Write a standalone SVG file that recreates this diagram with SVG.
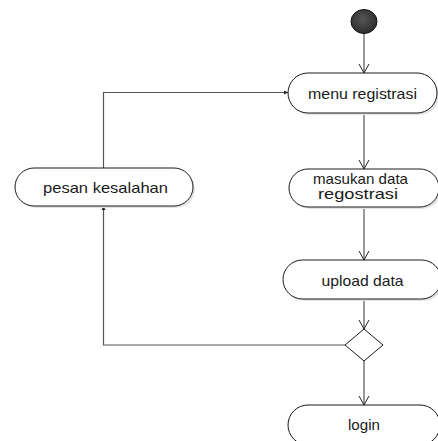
<svg xmlns="http://www.w3.org/2000/svg" width="438" height="441" viewBox="0 0 438 441">
<defs>
<radialGradient id="gStart" cx="0.45" cy="0.4" r="0.6">
<stop offset="0" stop-color="#555"/>
<stop offset="1" stop-color="#2e2e2e"/>
</radialGradient>
<marker id="open" markerWidth="12" markerHeight="12" refX="10" refY="6" orient="auto" markerUnits="userSpaceOnUse">
<path d="M1,1 L10,6 L1,11" fill="none" stroke="#222" stroke-width="1"/>
</marker>
<marker id="small" markerWidth="6" markerHeight="6" refX="4" refY="3" orient="auto" markerUnits="userSpaceOnUse">
<path d="M0,1 L4,3 L0,5 Z" fill="#222"/>
</marker>
</defs>
<style>
.act{fill:#fff;stroke:#1a1a1a;stroke-width:1}
.sh{fill:#e4e4e4;stroke:none}
.t{font-family:"Liberation Sans",Arial,sans-serif;font-size:14.5px;fill:#1a1a1a;text-anchor:middle}
.c{fill:none;stroke:#555;stroke-width:1.2}
</style>
<rect width="438" height="441" fill="#fff"/>
<g id="connectors">
<line class="c" x1="364" y1="33" x2="364" y2="73" marker-end="url(#open)"/>
<line class="c" x1="364" y1="113" x2="364" y2="169" marker-end="url(#open)"/>
<line class="c" x1="364" y1="207" x2="364" y2="260" marker-end="url(#open)"/>
<line class="c" x1="364" y1="299" x2="364" y2="329" marker-end="url(#open)"/>
<line class="c" x1="364" y1="361" x2="364" y2="405" marker-end="url(#open)"/>
<polyline class="c" points="345,345 103.5,345 103.5,206" marker-end="url(#small)"/>
<polyline class="c" points="103.5,168 103.5,92.5 288,92.5" marker-end="url(#small)"/>
</g>
<g id="start">
<ellipse cx="364" cy="21.5" rx="13" ry="12" fill="url(#gStart)" stroke="#111" stroke-width="1"/>
</g>
<g id="menu-registrasi">
<rect class="sh" x="290" y="75" width="149" height="40" rx="20"/>
<rect class="act" x="288" y="73" width="149" height="40" rx="20"/>
<text class="t" x="362.5" y="99" textLength="109" lengthAdjust="spacingAndGlyphs">menu registrasi</text>
</g>
<g id="pesan-kesalahan">
<rect class="sh" x="17" y="170" width="178" height="38" rx="19"/>
<rect class="act" x="15" y="168" width="178" height="38" rx="19"/>
<text class="t" x="105.5" y="192.5" textLength="125" lengthAdjust="spacingAndGlyphs">pesan kesalahan</text>
</g>
<g id="masukan-data">
<rect class="sh" x="291" y="171" width="150" height="38" rx="19"/>
<rect class="act" x="289" y="169" width="150" height="38" rx="19"/>
<text class="t" x="360.5" y="184" textLength="95" lengthAdjust="spacingAndGlyphs">masukan data</text>
<text class="t" x="358" y="199" textLength="80" lengthAdjust="spacingAndGlyphs">regostrasi</text>
</g>
<g id="upload-data">
<rect class="sh" x="285" y="262" width="158" height="39" rx="19.5"/>
<rect class="act" x="283" y="260" width="158" height="39" rx="19.5"/>
<text class="t" x="362.5" y="285.5" textLength="82" lengthAdjust="spacingAndGlyphs">upload data</text>
</g>
<g id="decision">
<polygon points="364,329 383,345 364,361 345,345" fill="#fff" stroke="#1a1a1a" stroke-width="1"/>
</g>
<g id="login">
<rect class="act" x="288" y="405" width="152" height="40" rx="20"/>
<text class="t" x="364" y="430" textLength="32" lengthAdjust="spacingAndGlyphs">login</text>
</g>
</svg>
